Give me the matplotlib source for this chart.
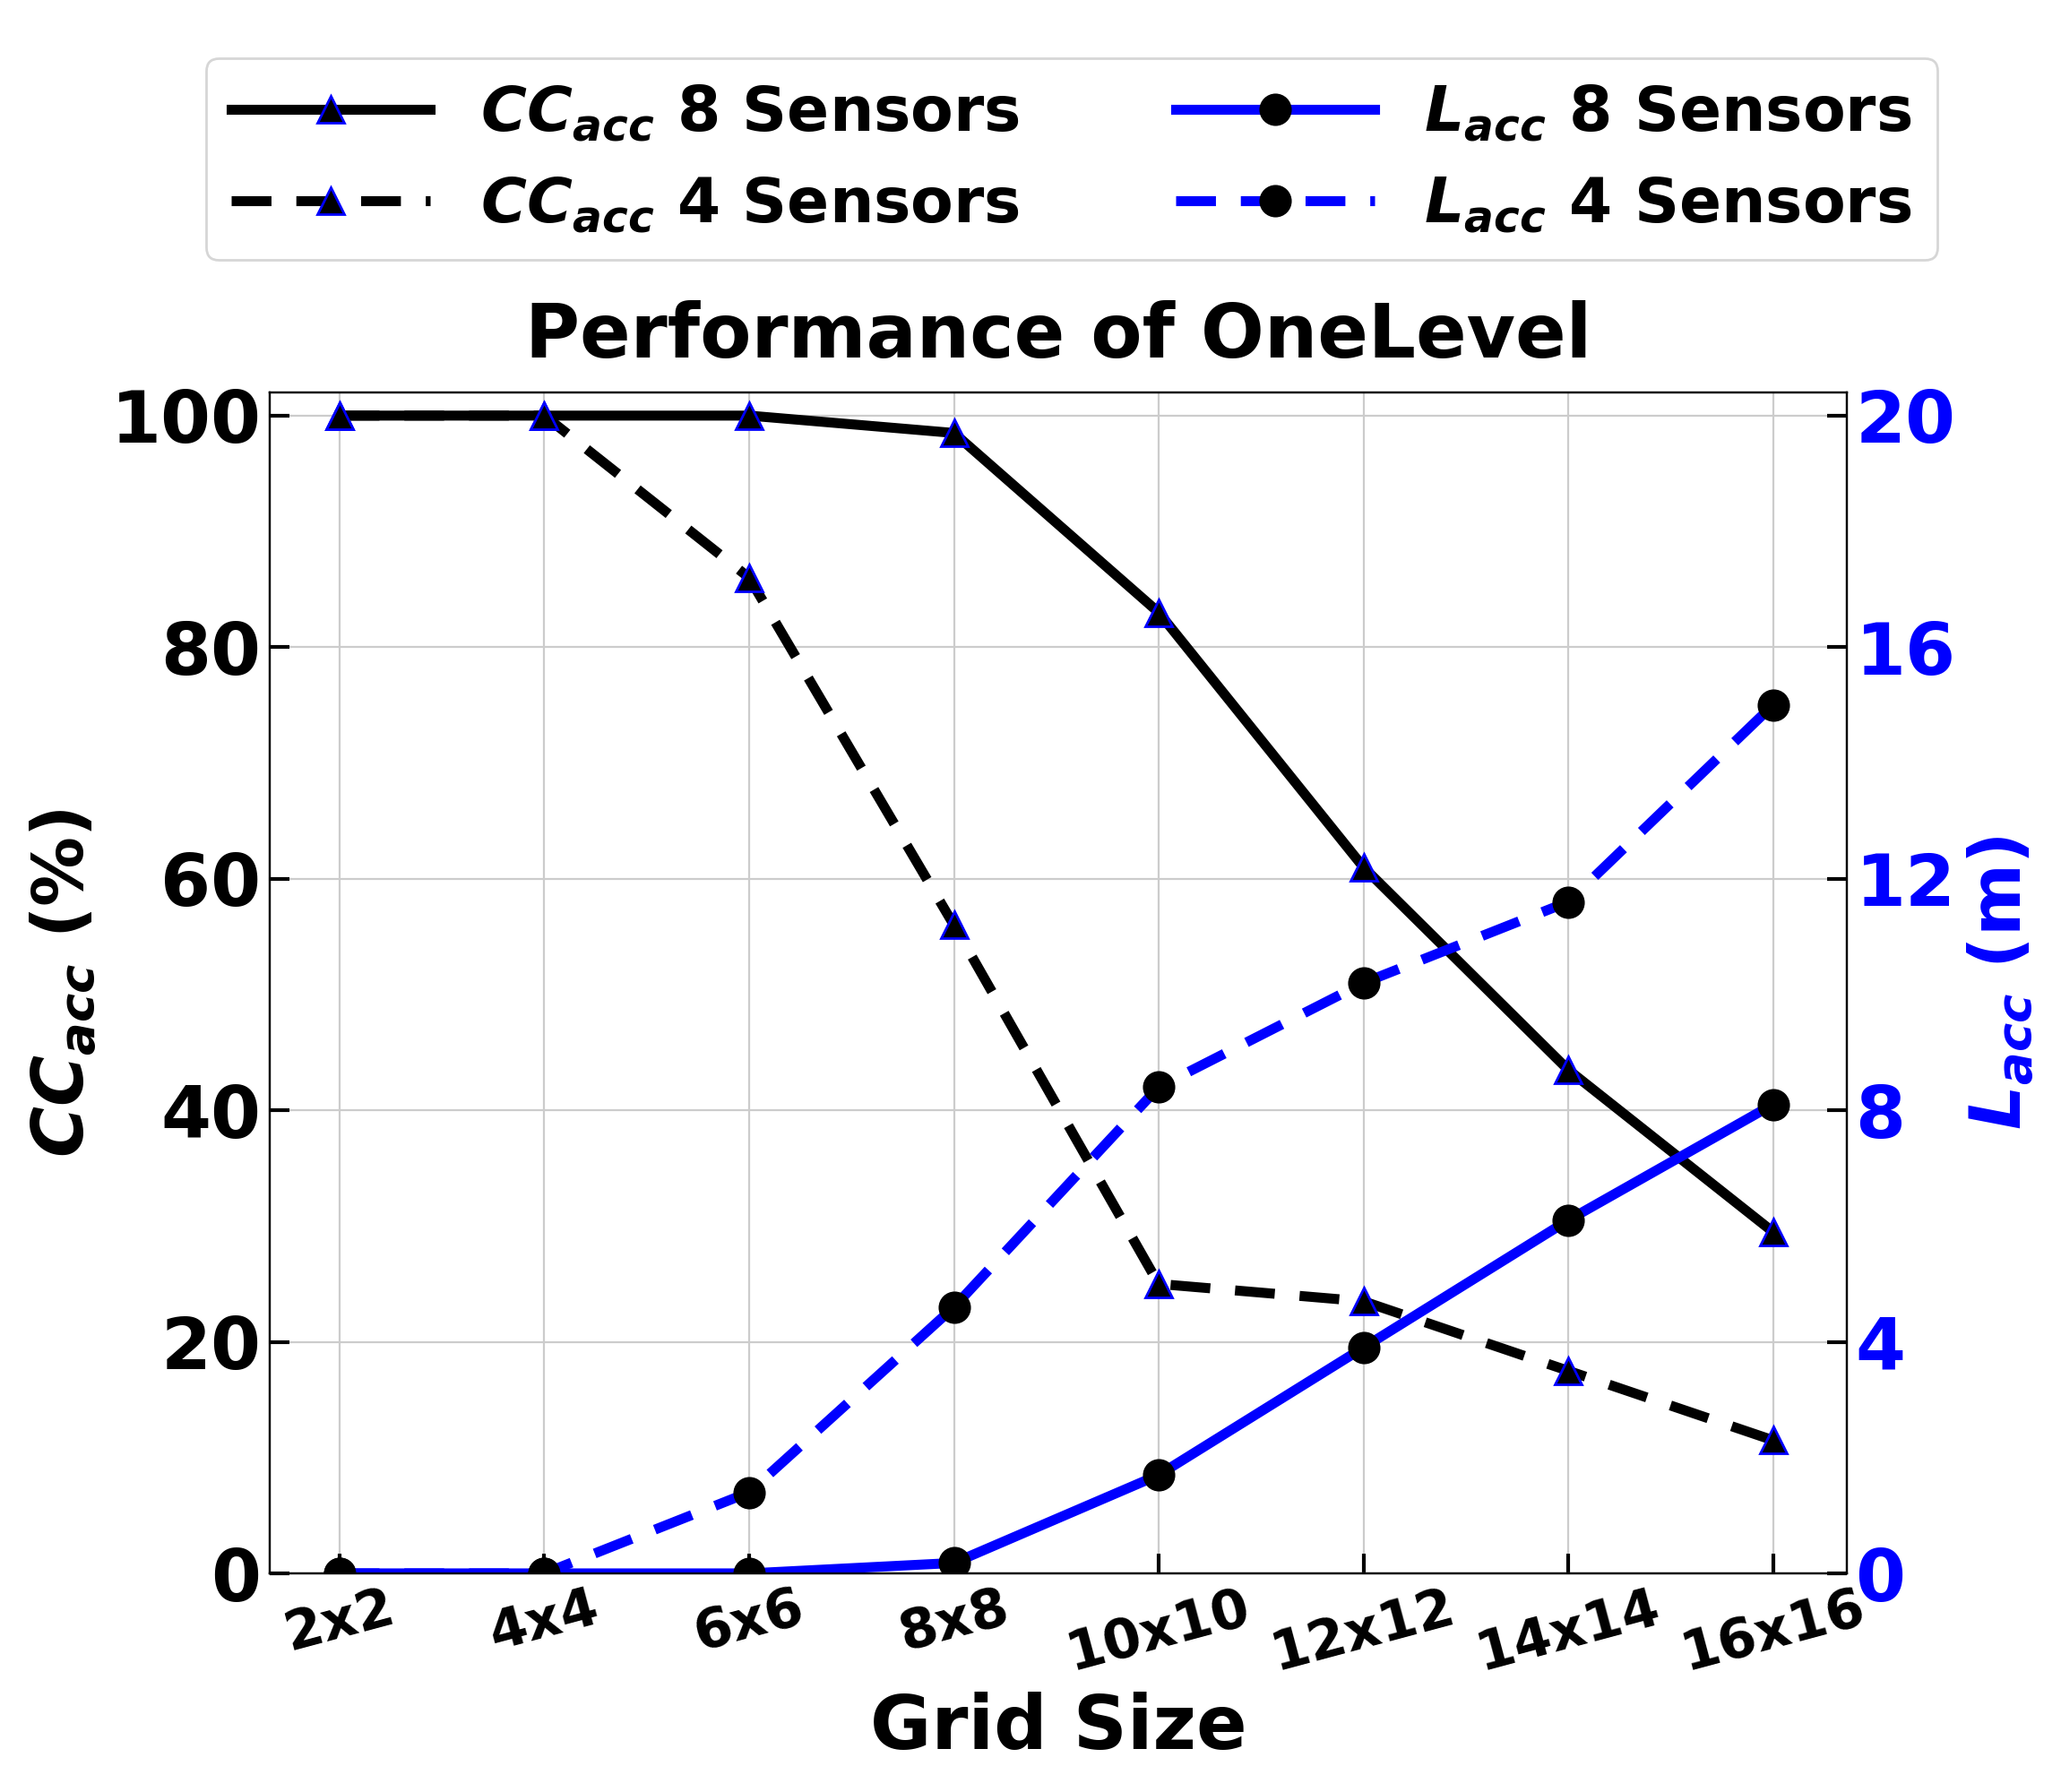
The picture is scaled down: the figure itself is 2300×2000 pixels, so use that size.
import matplotlib
matplotlib.use('Agg')
import matplotlib.pyplot as plt

grid_labels = ['2x2', '4x4', '6x6', '8x8', '10x10', '12x12', '14x14', '16x16']
cc_8 = [100, 100, 100, 98.5, 83, 61, 43.5, 29.5]
cc_4 = [100, 100, 86, 56, 25, 23.5, 17.5, 11.5]
l_8 = [0, 0, 0, 0.18, 1.7, 3.9, 6.1, 8.1]
l_4 = [0, 0, 1.4, 4.6, 8.4, 10.2, 11.6, 15.0]

plt.rcParams['font.weight'] = 'bold'
x = list(range(len(grid_labels)))

fig = plt.figure(figsize=(11.5, 10), dpi=200)
ax = fig.add_axes([0.131, 0.122, 0.765, 0.659])
ax2 = ax.twinx()

l1, = ax.plot(x, cc_8, '-', color='black', lw=4, marker='^', ms=11,
              mfc='black', mec='blue', mew=1, label=r'$\boldsymbol{CC_{acc}}$ 8 Sensors')
l2, = ax.plot(x, cc_4, '--', color='black', lw=4, marker='^', ms=11,
              mfc='black', mec='blue', mew=1, dashes=(4, 2.5), label=r'$CC_{acc}$ 4 Sensors')
l3, = ax2.plot(x, l_8, '-', color='blue', lw=4, marker='o', ms=12,
               mfc='black', mec='black', label=r'$L_{acc}$ 8 Sensors')
l4, = ax2.plot(x, l_4, '--', color='blue', lw=4, marker='o', ms=12,
               mfc='black', mec='black', dashes=(4, 2.5), label=r'$L_{acc}$ 4 Sensors')
l1.set_label(r'$\mathbfit{CC_{acc}}$ 8 Sensors')
l2.set_label(r'$\mathbfit{CC_{acc}}$ 4 Sensors')
l3.set_label(r'$\mathbfit{L_{acc}}$ 8 Sensors')
l4.set_label(r'$\mathbfit{L_{acc}}$ 4 Sensors')

ax.set_xlim(-0.34, 7.36)
ax.set_ylim(0, 102)
ax2.set_ylim(0, 20.4)
ax.set_yticks([0, 20, 40, 60, 80, 100])
ax2.set_yticks([0, 4, 8, 12, 16, 20])
ax.set_xticks(x)
ax.set_xticklabels(grid_labels, rotation=15, fontsize=22, fontweight='bold')
ax.grid(True, color='#cccccc', lw=0.8)
ax.tick_params(axis='both', direction='in', length=8, width=1.5, labelsize=29)
ax.tick_params(axis='x', labelsize=22)
ax2.tick_params(axis='y', direction='in', length=8, width=1.5, labelsize=29, colors='blue')
ax2.tick_params(axis='y', color='black')
for t in ax.get_yticklabels():
    t.set_fontweight('bold')
for t in ax2.get_yticklabels():
    t.set_fontweight('bold')

ax.set_xlabel('Grid Size', fontsize=30, fontweight='bold')
ax.set_ylabel(r'$\mathbfit{CC_{acc}}$ (%)', fontsize=28, fontweight='bold')
ax2.set_ylabel(r'$\mathbfit{L_{acc}}$ (m)', fontsize=28, fontweight='bold', color='blue')
ax.set_title('Performance of OneLevel', fontsize=30, fontweight='bold', pad=14)

fig.legend(handles=[l1, l2, l3, l4], loc='upper center', bbox_to_anchor=(0.52, 0.985),
           ncol=2, fontsize=25, handlelength=3.2, columnspacing=2.5, frameon=True)

fig.savefig('out.png', dpi=200)
